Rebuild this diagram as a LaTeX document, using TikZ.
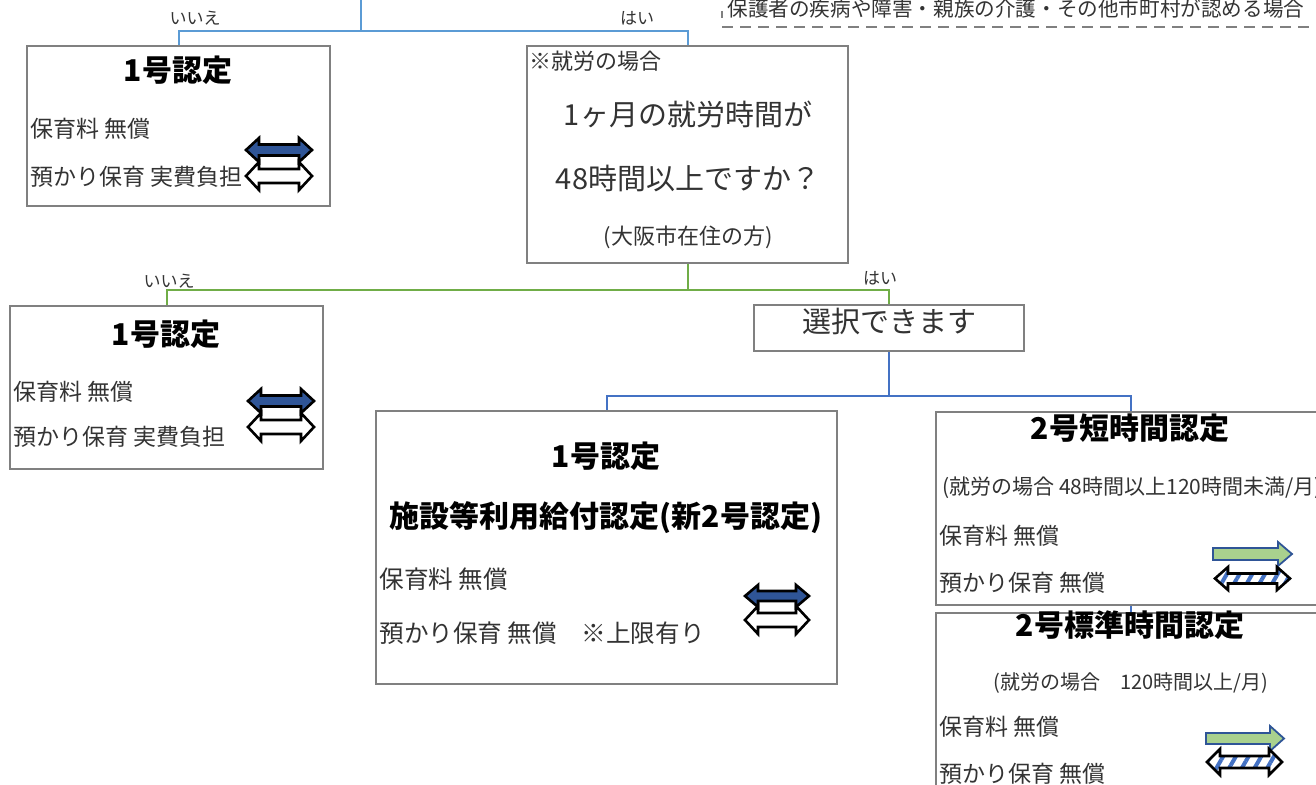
\documentclass[tikz,border=0pt]{standalone}
\usepackage{fontspec}
\setmainfont{Noto Sans CJK JP}
\usetikzlibrary{patterns.meta}
\definecolor{boxgray}{HTML}{808080}
\definecolor{lineA}{HTML}{5B9BD5}
\definecolor{lineB}{HTML}{70AD47}
\definecolor{lineC}{HTML}{4472C4}
\definecolor{arrblue}{HTML}{2F5597}
\definecolor{arrgreen}{HTML}{A9D18E}
\definecolor{txtgray}{HTML}{333333}
\newcommand\dblarr[5][]{\draw[#1,shift={(#2)}] (-#3,0) -- (-#3+13,-#4) -- (-#3+13,-#5) -- (#3-13,-#5) -- (#3-13,-#4) -- (#3,0) -- (#3-13,#4) -- (#3-13,#5) -- (-#3+13,#5) -- (-#3+13,#4) -- cycle;}
\newcommand\onearr[5][]{\draw[#1,shift={(#2)}] (-#3,-#5) -- (#3-14,-#5) -- (#3-14,-#4) -- (#3,0) -- (#3-14,#4) -- (#3-14,#5) -- (-#3,#5) -- cycle;}
\begin{document}
\begin{tikzpicture}[x=0.5pt,y=-0.5pt,
    box/.style={draw=boxgray,line width=1.2pt,fill=white,inner sep=0},
    wh/.style 2 args={minimum width=#1*0.5pt,minimum height=#2*0.5pt},
    txt/.style={anchor=west,inner sep=0,text=txtgray,font=\fontsize{11.5}{13}\selectfont},
    ctr/.style={inner sep=0,text=txtgray,font=\fontsize{14.5}{17}\selectfont},
    ttl/.style={inner sep=0,font=\fontsize{15}{18}\selectfont\bfseries},
    yn/.style={inner sep=0,text=txtgray,font=\fontsize{8.5}{10}\selectfont},
    lnA/.style={lineA,line width=1pt},
    lnB/.style={lineB,line width=1pt},
    lnC/.style={lineC,line width=1pt},
    bluearr/.style={draw=black,line width=1.3pt,fill=arrblue},
    whitearr/.style={draw=black,line width=1.3pt,fill=white},
    greenarr/.style={draw=arrblue,line width=0.9pt,fill=arrgreen},
    hatcharr/.style={draw=black,line width=1.3pt,pattern={Lines[angle=60,distance=5.5pt,line width=2pt]},pattern color=lineC}]
\useasboundingbox (0,0) rectangle (1316,785);
\clip (0,0) rectangle (1316,785);
% boxes
\node[box,wh={303}{160}] (kA) at (178.5,126) {};
\node[box,wh={321}{217}] (q) at (687.5,154.5) {};
\node[box,wh={313}{163}] (kB) at (166.5,387.5) {};
\node[box,wh={270}{46}] (sel) at (889,328) {};
\node[box,wh={461}{273}] (kC) at (606.5,547.5) {};
\node[box,wh={390}{193}] (kD) at (1131,508.5) {};
\node[box,wh={390}{237}] (kE) at (1131,731.5) {};
% connectors
\coordinate (src) at (361,-10);
\coordinate (f1) at (361,31);
\coordinate (f2) at (687.5,290);
\coordinate (f3) at (889,396);
\draw[lnA] (src) -- (f1);
\draw[lnA] (kA.north) |- (f1) -| (q.north);
\draw[lnB] (q.south) -- (f2);
\draw[lnB] (kB.north) |- (f2) -| (sel.north);
\draw[lnC] (sel.south) -- (f3);
\draw[lnC] (kC.north) |- (f3) -| (kD.north);
\draw[lnC] (kD.south) -- (kE.north);
\node[yn] (no1) at (195,18) {いいえ};
\node[yn] (yes1) at (637,18) {はい};
\node[yn] (no2) at (169,281) {いいえ};
\node[yn] (yes2) at (880,278) {はい};
% note
\draw[boxgray,line width=0.8pt] (722,11) -- (722,18);
\draw[boxgray,line width=1.3pt,dash pattern=on 5.5pt off 3.5pt] (722,27) -- (1330,27);
\node[txt,font=\fontsize{10.3}{12}\selectfont] (note) at (727,9) {保護者の疾病や障害・親族の介護・その他市町村が認める場合};
% 1号 (top)
\node[ttl] (kAt) at (178,70) {1号認定};
\node[txt] (kA1) at (30,129) {保育料 無償};
\node[txt] (kA2) at (30,177) {預かり保育 実費負担};
\dblarr[bluearr]{279,150}{33}{12}{5.5}
\dblarr[whitearr]{279,176}{33}{14}{7}
% question
\node[txt,font=\fontsize{11}{13}\selectfont] (q0) at (529,61) {※就労の場合};
\node[ctr] (q1) at (688,114) {1ヶ月の就労時間が};
\node[ctr] (q2) at (688,179) {48時間以上ですか？};
\node[ctr,font=\fontsize{11}{13}\selectfont] (q3) at (688,237) {(大阪市在住の方)};
\node[ctr] (selt) at (889,322) {選択できます};
% 1号 (left)
\node[ttl] (kBt) at (166,334) {1号認定};
\node[txt] (kB1) at (13,392) {保育料 無償};
\node[txt] (kB2) at (13,437) {預かり保育 実費負担};
\dblarr[bluearr]{281,401}{33}{12}{5.5}
\dblarr[whitearr]{281,427}{33}{14}{7}
% 1号 / 施設等利用給付認定
\node[ttl] (kCt) at (606,456) {1号認定};
\node[ttl] (kCs) at (606,518) {施設等利用給付認定(新2号認定)};
\node[txt,font=\fontsize{12.3}{14}\selectfont] (kC1) at (379,579) {保育料 無償};
\node[txt,font=\fontsize{12.3}{14}\selectfont] (kC2) at (379,633) {預かり保育 無償　※上限有り};
\dblarr[bluearr]{777,596}{32}{11}{5}
\dblarr[whitearr]{777,620}{32}{14}{7}
% 2号短時間
\node[ttl] (kDt) at (1130,428) {2号短時間認定};
\node[txt,font=\fontsize{10.5}{12}\selectfont] (kDs) at (942,488) {(就労の場合 48時間以上120時間未満/月)};
\node[txt] (kD1) at (939,536) {保育料 無償};
\node[txt] (kD2) at (939,583) {預かり保育 無償};
\onearr[greenarr]{1252.5,554}{39.5}{12}{6}
\dblarr[hatcharr]{1252.5,578.5}{37.5}{11.5}{5}
% 2号標準時間
\node[ttl] (kEt) at (1130,625) {2号標準時間認定};
\node[ctr,font=\fontsize{10}{12}\selectfont] (kEs) at (1131,683) {(就労の場合　120時間以上/月)};
\node[txt] (kE1) at (939,727) {保育料 無償};
\node[txt] (kE2) at (939,774) {預かり保育 無償};
\onearr[greenarr]{1245,738.5}{39}{12.5}{5.5}
\dblarr[hatcharr]{1244.5,762}{37.5}{13}{6}
\end{tikzpicture}
\end{document}
